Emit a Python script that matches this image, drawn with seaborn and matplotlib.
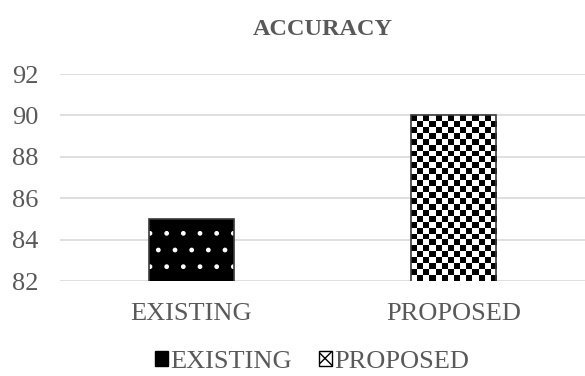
import numpy as np
import pandas as pd
from matplotlib import pyplot as plt
from matplotlib.patches import Patch
import seaborn as sns

categories = ['EXISTING', 'PROPOSED']
accuracy = [85, 90]
yticks = [82, 84, 86, 88, 90, 92]

sns.set_style('white')
plt.rcParams['font.family'] = ['Liberation Serif', 'DejaVu Serif']
grey = '#595959'

df = pd.DataFrame({'method': categories, 'acc': accuracy})

fig = plt.figure(figsize=(5.85, 3.76), dpi=100)
ax = fig.add_axes([60.5 / 585, 1 - 281 / 376, 524 / 585, (281 - 74) / 376])

sns.barplot(data=df, x='method', y='acc', hue='method', width=0.325,
            palette=['black', 'white'], legend=False, ax=ax)
ax.set_ylim(82, 92)

# existing: black with white dots (hatch colour follows edgecolor)
p0, p1 = ax.patches[0], ax.patches[1]
p0.set_edgecolor('white')
p0.set_hatch('.')
p0.set_linewidth(0)
try:
    p0.set_hatch_linewidth(1.0)
except AttributeError:
    pass

# proposed: checkerboard texture clipped to the bar
x0, w, h = p1.get_x(), p1.get_width(), p1.get_height()
cell = 6  # px
px_w = w / 2 * 524
px_h = (h - 82) / 10 * 207
nx, ny = int(round(px_w / cell)), int(round(px_h / cell))
checker = np.indices((ny, nx)).sum(0) % 2
ax.imshow(checker, cmap='gray', extent=(x0, x0 + w, 82, h), aspect='auto',
          interpolation='nearest', clip_path=p1, zorder=2)
ax.set_xlim(-0.5, 1.5)
ax.set_ylim(82, 92)

sns.barplot(data=df, x='method', y='acc', width=0.325, fill=False,
            color='#3a3a3a', linewidth=1.2, legend=False, ax=ax, zorder=3)

ax.set_yticks(yticks)
ax.grid(axis='y', color='#d9d9d9', linewidth=1.2, zorder=0)
ax.set_axisbelow(True)
for sp in ax.spines.values():
    sp.set_visible(False)
ax.tick_params(axis='both', length=0, labelsize=19, colors=grey)
ax.tick_params(axis='x', pad=16)
ax.tick_params(axis='y', pad=16)
ax.set_xlabel('')
ax.set_ylabel('')
ax.set_title('ACCURACY', fontsize=17.5, fontweight='bold', color=grey, pad=28)

handles = [Patch(facecolor='black', edgecolor='black', label=categories[0]),
           Patch(facecolor='white', edgecolor='black', hatch='xx', label=categories[1])]
leg = ax.legend(handles=handles, loc='center', bbox_to_anchor=(0.48, -0.39),
                ncol=2, frameon=False, fontsize=19, handlelength=0.5,
                handleheight=0.5, handletextpad=0.1, columnspacing=1.0,
                borderpad=0.2)
for t in leg.get_texts():
    t.set_color(grey)

fig.savefig('out.png', dpi=100)
